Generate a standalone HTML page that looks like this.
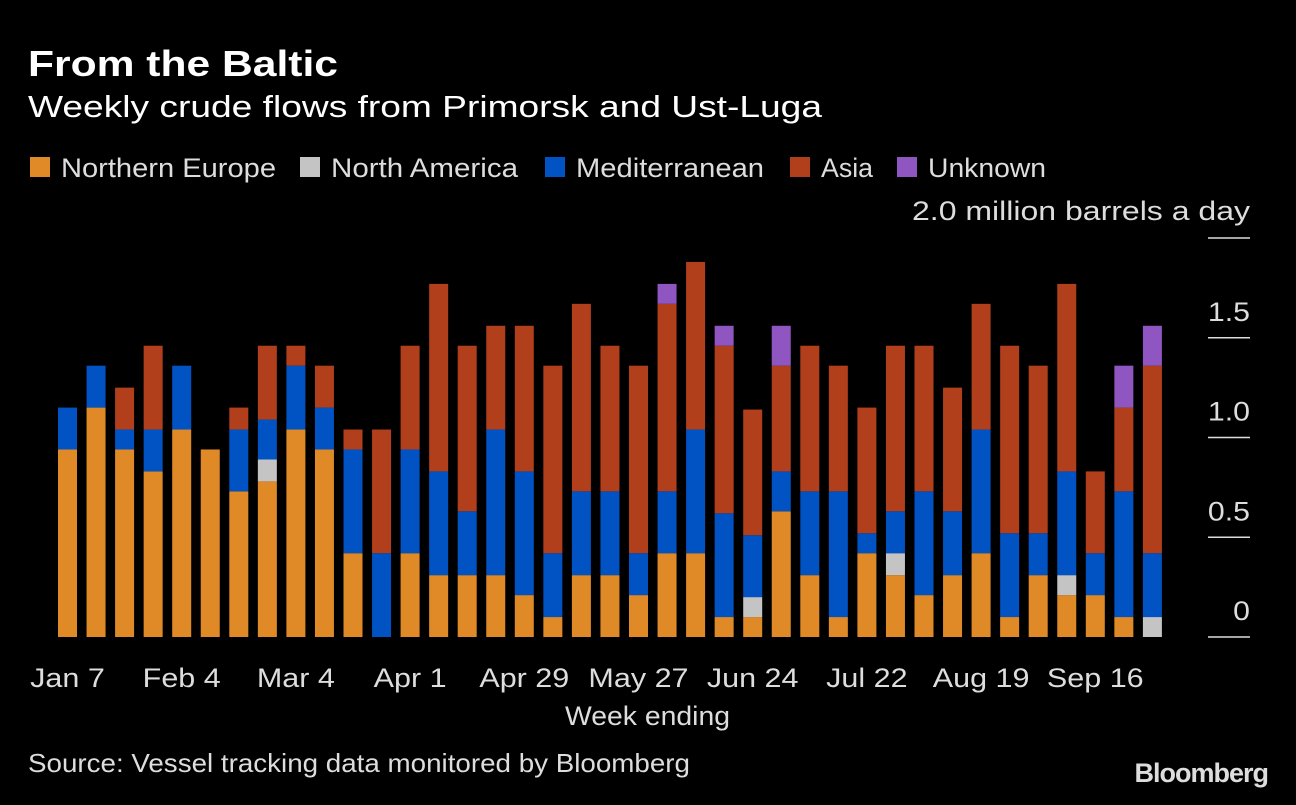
<!DOCTYPE html>
<html><head><meta charset="utf-8">
<style>
html,body{margin:0;padding:0;background:#000;}
body{width:1296px;height:800px;overflow:hidden;font-family:"Liberation Sans",sans-serif;}
svg text{font-family:"Liberation Sans",sans-serif;}
</style></head>
<body>
<svg id="chart" width="1296" height="800" xmlns="http://www.w3.org/2000/svg">
<rect width="1296" height="800" fill="#000"/>
<text x="28" y="76" fill="#fff" font-size="36" font-weight="bold" textLength="310" lengthAdjust="spacingAndGlyphs">From the Baltic</text>
<text x="28" y="117" fill="#fff" font-size="31" textLength="794" lengthAdjust="spacingAndGlyphs">Weekly crude flows from Primorsk and Ust-Luga</text>
<g id="legend"></g>
<text x="912" y="220" fill="#ddd" font-size="27" textLength="338" lengthAdjust="spacingAndGlyphs">2.0 million barrels a day</text>
<g id="yaxis"></g>
<g id="bars"></g>
<g id="xaxis"></g>
<text x="565" y="725" fill="#ddd" font-size="27" textLength="165" lengthAdjust="spacingAndGlyphs">Week ending</text>
<text x="28" y="772" fill="#ddd" font-size="26" textLength="662" lengthAdjust="spacingAndGlyphs">Source: Vessel tracking data monitored by Bloomberg</text>
<text x="1268" y="782" fill="#ddd" font-size="27" font-weight="bold" text-anchor="end" letter-spacing="-1">Bloomberg</text>
</svg>
<script>
const seriesNames = ["Northern Europe","North America","Mediterranean","Asia","Unknown"];
const seriesColors = ["#df8a27","#c4c4c4","#0152c2","#b13f1c","#8f55c0"];
const northernEurope = [0.94,1.15,0.94,0.83,1.04,0.94,0.73,0.78,1.04,0.94,0.42,0,0.42,0.31,0.31,0.31,0.21,0.10,0.31,0.31,0.21,0.42,0.42,0.10,0.10,0.63,0.31,0.10,0.42,0.31,0.21,0.31,0.42,0.10,0.31,0.21,0.21,0.10,0];
const northAmerica = [0,0,0,0,0,0,0,0.11,0,0,0,0,0,0,0,0,0,0,0,0,0,0,0,0,0.10,0,0,0,0,0.11,0,0,0,0,0,0.10,0,0,0.10];
const mediterranean = [0.21,0.21,0.10,0.21,0.32,0,0.31,0.20,0.32,0.21,0.52,0.42,0.52,0.52,0.32,0.73,0.62,0.32,0.42,0.42,0.21,0.31,0.62,0.52,0.31,0.20,0.42,0.63,0.10,0.21,0.52,0.32,0.62,0.42,0.21,0.52,0.21,0.63,0.32];
const asia = [0,0,0.21,0.42,0,0,0.11,0.37,0.10,0.21,0.10,0.62,0.52,0.94,0.83,0.52,0.73,0.94,0.94,0.73,0.94,0.94,0.84,0.84,0.63,0.53,0.73,0.63,0.63,0.83,0.73,0.62,0.63,0.94,0.84,0.94,0.41,0.42,0.94];
const unknown = [0,0,0,0,0,0,0,0,0,0,0,0,0,0,0,0,0,0,0,0,0,0.10,0,0.10,0,0.20,0,0,0,0,0,0,0,0,0,0,0,0.21,0.20];
const yTicks = [0,0.5,1.0,1.5,2.0];
const yTickLabels = ["0","0.5","1.0","1.5",""];
const xTickIndex = [0,4,8,12,16,20,24,28,32,36];
const xTickLabels = ["Jan 7","Feb 4","Mar 4","Apr 1","Apr 29","May 27","Jun 24","Jul 22","Aug 19","Sep 16"];

const NS="http://www.w3.org/2000/svg";
const y0=637, pxPerUnit=199.5;
const yScale=v=>y0-v*pxPerUnit;
const x0=58, step=28.55, bw=19;
const xScale=i=>x0+i*step;
function mk(tag,attrs,parent){const e=document.createElementNS(NS,tag);for(const k in attrs)e.setAttribute(k,attrs[k]);parent.appendChild(e);return e;}
function stretch(t,f){const w=t.getComputedTextLength();t.setAttribute('textLength',(w*f).toFixed(1));t.setAttribute('lengthAdjust','spacingAndGlyphs');}

// legend
const lg=document.getElementById('legend');
const legendX=[30,300,545,790,897];
const legendW=[215,187,188,52,118];
seriesNames.forEach((n,i)=>{
  const r=mk('rect',{x:legendX[i],y:157,width:20,height:20,fill:seriesColors[i]},lg);
  
  
  const t=mk('text',{x:legendX[i]+31,y:177,fill:'#ddd','font-size':27,textLength:legendW[i],lengthAdjust:'spacingAndGlyphs'},lg);
  
  
  t.textContent=n;
});

// y axis
const ya=document.getElementById('yaxis');
yTicks.forEach((v,i)=>{
  const l=mk('line',{x1:1208,x2:1250,y1:yScale(v),y2:yScale(v),stroke:'#ddd','stroke-width':1.5},ya);
  
  
  if(yTickLabels[i]){
    const t=mk('text',{x:1250,y:yScale(v)-17,fill:'#ddd','font-size':27,'text-anchor':'end'},ya);
    
    
    t.textContent=yTickLabels[i];
    stretch(t,1.12);
  }
});

// bars
const bg=document.getElementById('bars');
const all=[northernEurope,northAmerica,mediterranean,asia,unknown];
for(let i=0;i<northernEurope.length;i++){
  let cum=0;
  all.forEach((s,k)=>{
    const v=s[i];
    if(v>0){
      const r=mk('rect',{x:xScale(i),y:yScale(cum+v),width:bw,height:yScale(cum)-yScale(cum+v),fill:seriesColors[k]},bg);
      
      
    }
    cum+=v;
  });
}

// x axis
const xa=document.getElementById('xaxis');
xTickIndex.forEach((idx,i)=>{
  const t=mk('text',{x:xScale(idx)+bw/2,y:687,fill:'#ddd','font-size':27,'text-anchor':'middle'},xa);
  
  
  t.textContent=xTickLabels[i];
  stretch(t,1.13);
});
</script>
</body></html>
